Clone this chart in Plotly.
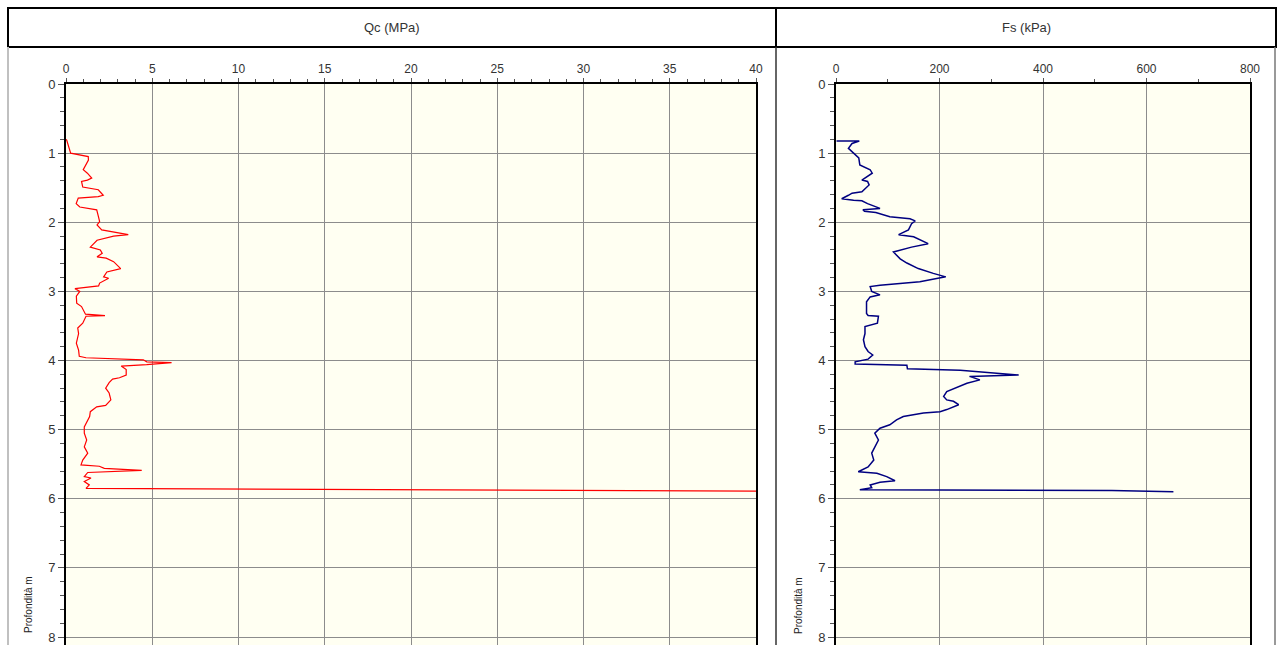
import plotly.graph_objects as go

# ---- data ----
depth_qc = [0.80, 0.81, 1.00, 1.05, 1.10, 1.24, 1.29, 1.36, 1.39, 1.41, 1.49, 1.53, 1.61, 1.63, 1.65,
            1.73, 1.78, 1.82, 1.92, 1.99, 2.04, 2.11, 2.18, 2.20, 2.26, 2.36, 2.40, 2.45, 2.50, 2.52,
            2.57, 2.67, 2.72, 2.79, 2.81, 2.88, 2.92, 2.96, 3.00, 3.07, 3.17, 3.22, 3.33, 3.35, 3.36,
            3.46, 3.53, 3.61, 3.75, 3.85, 3.94, 3.96, 3.99, 4.02, 4.03, 4.06, 4.08, 4.13, 4.21, 4.25,
            4.27, 4.32, 4.40, 4.47, 4.57, 4.65, 4.67, 4.74, 4.81, 4.91, 4.96, 5.05, 5.15, 5.25, 5.34,
            5.44, 5.51, 5.53, 5.56, 5.59, 5.62, 5.68, 5.70, 5.75, 5.80, 5.85, 5.89]
qc = [0.00, 0.04, 0.27, 1.29, 1.30, 1.00, 1.24, 1.49, 1.24, 0.90, 0.97, 1.87, 2.16, 1.87, 0.71,
      0.59, 0.80, 1.78, 1.88, 1.95, 1.80, 2.07, 3.61, 2.76, 1.80, 1.41, 1.99, 2.10, 1.80, 2.33,
      2.76, 3.17, 2.37, 2.18, 2.47, 1.95, 1.89, 0.52, 0.80, 0.60, 0.62, 0.90, 1.13, 2.26, 1.16,
      0.97, 0.68, 0.73, 0.60, 0.73, 0.77, 1.16, 4.48, 4.68, 6.12, 4.68, 3.20, 3.49, 3.49, 3.10,
      2.70, 2.50, 2.30, 2.50, 2.60, 2.30, 1.78, 1.41, 1.37, 1.16, 1.06, 1.06, 1.20, 1.06, 1.26,
      0.97, 0.87, 1.93, 2.22, 4.39, 1.26, 1.06, 1.45, 1.06, 1.35, 1.16, 40.0]

depth_fs = [0.825, 0.825, 0.86, 0.93, 1.00, 1.07, 1.17, 1.24, 1.29, 1.34, 1.39, 1.41, 1.46, 1.56, 1.58,
            1.61, 1.66, 1.68, 1.69, 1.73, 1.80, 1.82, 1.84, 1.86, 1.92, 1.95, 1.98, 2.02, 2.11, 2.18,
            2.21, 2.31, 2.36, 2.43, 2.53, 2.59, 2.67, 2.74, 2.79, 2.86, 2.88, 2.91, 2.93, 3.00, 3.05,
            3.08, 3.15, 3.24, 3.32, 3.35, 3.36, 3.46, 3.51, 3.61, 3.70, 3.80, 3.87, 3.92, 3.98, 4.02,
            4.05, 4.07, 4.12, 4.14, 4.21, 4.23, 4.28, 4.33, 4.39, 4.45, 4.52, 4.57, 4.59, 4.64, 4.71,
            4.74, 4.76, 4.81, 4.86, 4.93, 4.98, 5.05, 5.15, 5.25, 5.34, 5.44, 5.54, 5.61, 5.63, 5.68,
            5.74, 5.76, 5.80, 5.84, 5.87, 5.88, 5.90]
fs = [1, 45, 31, 24, 34, 44, 46, 66, 70, 61, 50, 61, 64, 50, 31,
      24, 11, 34, 50, 61, 85, 52, 55, 77, 104, 143, 153, 146, 140, 121,
      150, 178, 146, 111, 124, 137, 159, 188, 212, 162, 124, 85, 66, 69, 85,
      66, 59, 59, 59, 62, 82, 80, 56, 56, 53, 56, 62, 71, 62, 37,
      37, 137, 138, 240, 353, 258, 278, 253, 234, 214, 208, 214, 227, 237, 214,
      201, 169, 130, 117, 104, 85, 75, 82, 75, 69, 73, 62, 43, 79, 98,
      114, 85, 66, 69, 46, 533, 652]

qc_ticks = [0, 5, 10, 15, 20, 25, 30, 35, 40]
fs_ticks = [0, 200, 400, 600, 800]
depth_ticks = [0, 1, 2, 3, 4, 5, 6, 7, 8]

W, H = 1282, 645
FONT = "Liberation Sans, Arial, sans-serif"
TXT = "#333333"
GRID = "#8c8c8c"


def px(x):
    return x / W


def py(y):
    return 1 - y / H


depth_max = (645 - 84) / 69.125

fig = go.Figure()
fig.add_trace(go.Scatter(x=qc, y=depth_qc, mode="lines", line=dict(color="#ff0000", width=1.2),
                         xaxis="x", yaxis="y", showlegend=False, hoverinfo="x+y"))
fig.add_trace(go.Scatter(x=fs, y=depth_fs, mode="lines", line=dict(color="#000080", width=1.5),
                         xaxis="x2", yaxis="y2", showlegend=False, hoverinfo="x+y"))

common_x = dict(side="top", showgrid=True, gridcolor=GRID, gridwidth=1, zeroline=False,
                showline=True, linecolor="black", linewidth=2, ticks="outside", ticklen=4,
                tickcolor="#555555", tickfont=dict(family=FONT, size=12, color=TXT),
                automargin=False, fixedrange=True)
common_y = dict(autorange=False, range=[depth_max, 0], showgrid=True, gridcolor=GRID, gridwidth=1,
                zeroline=False, showline=True, mirror=True, linecolor="black", linewidth=2,
                ticks="outside", ticklen=6, tickcolor="#555555", tickvals=depth_ticks,
                tickfont=dict(family=FONT, size=13, color=TXT), automargin=False,
                minor=dict(dtick=0.2, ticks="outside", ticklen=4, tickcolor="#555555", showgrid=False),
                domain=[0, py(84)])

fig.update_layout(
    width=W, height=H,
    margin=dict(l=0, r=0, t=0, b=0),
    paper_bgcolor="white",
    plot_bgcolor="#fffff2",
    xaxis=dict(common_x, range=[0, 40], tickvals=qc_ticks, domain=[px(66), px(756)], anchor="y",
               minor=dict(dtick=1, ticks="outside", ticklen=3, tickcolor="#555555", showgrid=False)),
    yaxis=dict(common_y, anchor="x"),
    xaxis2=dict(common_x, range=[0, 800], tickvals=fs_ticks, domain=[px(836), px(1250)], anchor="y2",
                minor=dict(dtick=100, ticks="outside", ticklen=3, tickcolor="#555555", showgrid=False)),
    yaxis2=dict(common_y, anchor="x2"),
)

# header boxes and frame lines
shapes = [
    dict(type="rect", xref="paper", yref="paper", x0=px(8), x1=px(776), y0=py(47), y1=py(8),
         line=dict(color="black", width=2)),
    dict(type="rect", xref="paper", yref="paper", x0=px(776), x1=px(1276), y0=py(47), y1=py(8),
         line=dict(color="black", width=2)),
    dict(type="line", xref="paper", yref="paper", x0=px(8), x1=px(8), y0=py(47), y1=0,
         line=dict(color="#c0c0c0", width=2)),
    dict(type="line", xref="paper", yref="paper", x0=px(776), x1=px(776), y0=py(47), y1=0,
         line=dict(color="#333333", width=1.5)),
    dict(type="line", xref="paper", yref="paper", x0=px(1275), x1=px(1275), y0=py(47), y1=0,
         line=dict(color="#777777", width=1.5)),
]
fig.update_layout(shapes=shapes)

annotations = [
    dict(text="Qc (MPa)", x=px(392), y=py(28), xref="paper", yref="paper", showarrow=False,
         font=dict(family=FONT, size=13, color=TXT), xanchor="center", yanchor="middle"),
    dict(text="Fs (kPa)", x=px(1026), y=py(28), xref="paper", yref="paper", showarrow=False,
         font=dict(family=FONT, size=13, color=TXT), xanchor="center", yanchor="middle"),
    dict(text="Profondità m", x=px(28), y=py(605), xref="paper", yref="paper", showarrow=False,
         textangle=-90, font=dict(family=FONT, size=10, color="#222222"), xanchor="center", yanchor="middle"),
    dict(text="Profondità m", x=px(798), y=py(605), xref="paper", yref="paper", showarrow=False,
         textangle=-90, font=dict(family=FONT, size=10, color="#222222"), xanchor="center", yanchor="middle"),
]
fig.update_layout(annotations=annotations)

fig.write_html("out.html", config={"displayModeBar": False},
               post_script="document.body.style.margin='0';document.body.style.overflow='hidden';")
